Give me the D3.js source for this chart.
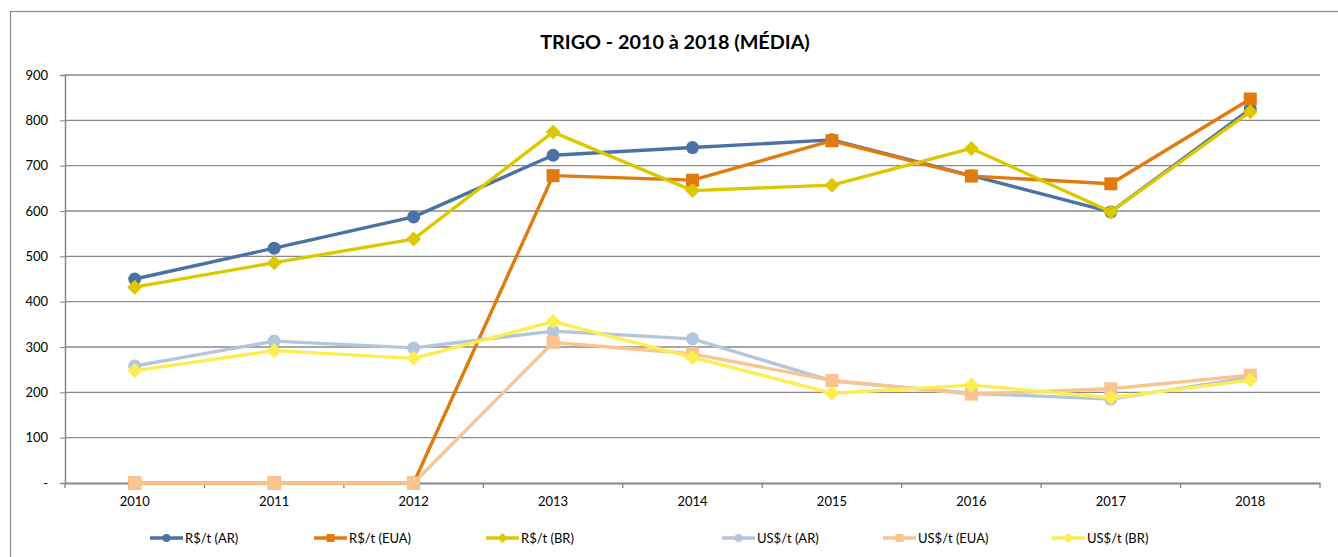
<!DOCTYPE html>
<html>
<head>
<meta charset="utf-8">
<script src="https://cdn.jsdelivr.net/npm/d3@7"></script>
<style>
  html, body { margin: 0; padding: 0; background: #fff; }
  svg { display: block; }
  text { font-family: Lato, "Open Sans", sans-serif; fill: #000; }
</style>
</head>
<body>
<svg id="chart" width="1338" height="557"></svg>
<script>
// Anos (categorias)
const years = ["2010", "2011", "2012", "2013", "2014", "2015", "2016", "2017", "2018"];

// Preço médio do trigo por série
const rsAR  = [450, 518, 587, 723, 740, 757, 678, 598, 825];
const rsEUA = [0, 0, 0, 678, 668, 755, 677, 660, 847];
const rsBR  = [432, 486, 538, 774, 645, 657, 738, 598, 819];
const usAR  = [258, 313, 298, 335, 318, 225, 198, 185, 233];
const usEUA = [0, 0, 0, 310, 285, 226, 196, 208, 238];
const usBR  = [248, 292, 275, 356, 277, 198, 216, 188, 227];

const seriesNames = ["R$/t (AR)", "R$/t (EUA)", "R$/t (BR)", "US$/t (AR)", "US$/t (EUA)", "US$/t (BR)"];
const yTicks = [0, 100, 200, 300, 400, 500, 600, 700, 800, 900];
const title = "TRIGO - 2010 à 2018 (MÉDIA)";

const seriesValues = [rsAR, rsEUA, rsBR, usAR, usEUA, usBR];
const colors = ["#4A72A6", "#E07B10", "#DDC800", "#B3C6DC", "#F8C590", "#FCEE50"];
const markers = ["circle", "square", "diamond", "circle", "square", "diamond"];

const svg = d3.select("#chart");

// Moldura do gráfico
svg.append("rect")
  .attr("x", 10.5).attr("y", 11.5)
  .attr("width", 1400).attr("height", 600)
  .attr("fill", "#fff").attr("stroke", "#8c8c8c").attr("stroke-width", 1.2);

const plot = { left: 65, right: 1320, top: 75, bottom: 483 };

const x = d3.scaleBand().domain(years).range([plot.left, plot.right]);
const y = d3.scaleLinear().domain([0, 900]).range([plot.bottom, plot.top]);
const cx = d => x(d) + x.bandwidth() / 2;

// Título
svg.append("text")
  .attr("x", 675).attr("y", 49)
  .attr("text-anchor", "middle")
  .style("font-weight", "bold").style("font-size", "19.8px")
  .text(title);

// Linhas de grade horizontais
svg.append("g")
  .selectAll("line")
  .data(yTicks.filter(v => v > 0))
  .join("line")
  .attr("x1", plot.left).attr("x2", plot.right)
  .attr("y1", d => y(d)).attr("y2", d => y(d))
  .attr("stroke", "#8a8a8a").attr("stroke-width", 1.3);

// Eixo Y
const yAxis = d3.axisLeft(y)
  .tickValues(yTicks)
  .tickSize(5)
  .tickPadding(12)
  .tickFormat(d => d === 0 ? "-" : d3.format("d")(d));
const gy = svg.append("g").attr("transform", `translate(${plot.left},0)`).call(yAxis);
gy.select(".domain").attr("stroke", "#868686").attr("stroke-width", 1.5);
gy.selectAll(".tick line").attr("stroke", "#868686");
gy.selectAll(".tick text").style("font-size", "13px").attr("fill", "#000");

// Eixo X
const xAxis = d3.axisBottom(x).tickSize(0).tickPadding(14);
const gx = svg.append("g").attr("transform", `translate(0,${plot.bottom})`).call(xAxis);
gx.select(".domain").attr("stroke", "#868686").attr("stroke-width", 2);
gx.selectAll(".tick text").style("font-size", "13px").attr("fill", "#000");

// Marcas entre categorias
const boundaries = years.map(d => x(d)).concat([plot.right]);
gx.selectAll(".bnd")
  .data(boundaries)
  .join("line")
  .attr("class", "bnd")
  .attr("x1", d => d).attr("x2", d => d)
  .attr("y1", 0).attr("y2", 5)
  .attr("stroke", "#868686").attr("stroke-width", 1.3);

// Desenho dos marcadores
function drawMarker(g, type, px, py, size, color) {
  if (type === "circle") {
    g.append("circle").attr("cx", px).attr("cy", py).attr("r", size / 2).attr("fill", color);
  } else if (type === "square") {
    g.append("rect").attr("x", px - size / 2).attr("y", py - size / 2)
      .attr("width", size).attr("height", size).attr("fill", color);
  } else {
    const h = size / 2 + 1;
    g.append("path")
      .attr("d", `M${px},${py - h}L${px + h},${py}L${px},${py + h}L${px - h},${py}Z`)
      .attr("fill", color);
  }
}

const line = d3.line().x(d => cx(d.year)).y(d => y(d.value));

seriesValues.forEach((vals, i) => {
  const pts = years.map((yr, j) => ({ year: yr, value: vals[j] }));
  const g = svg.append("g");
  g.append("path")
    .datum(pts)
    .attr("d", line)
    .attr("fill", "none")
    .attr("stroke", colors[i])
    .attr("stroke-width", 3.4)
    .attr("stroke-linejoin", "round");
  pts.forEach(p => drawMarker(g, markers[i], cx(p.year), y(p.value), 13, colors[i]));
});

// Legenda
const legendX = [150, 314, 486, 722, 883, 1052];
const legendY = 538;
seriesNames.forEach((name, i) => {
  const g = svg.append("g");
  g.append("line")
    .attr("x1", legendX[i]).attr("x2", legendX[i] + 33)
    .attr("y1", legendY).attr("y2", legendY)
    .attr("stroke", colors[i]).attr("stroke-width", 3.4);
  drawMarker(g, markers[i], legendX[i] + 16.5, legendY, 8, colors[i]);
  g.append("text")
    .attr("x", legendX[i] + 35).attr("y", legendY + 4.5)
    .style("font-size", "13px")
    .text(name);
});
</script>
</body>
</html>
